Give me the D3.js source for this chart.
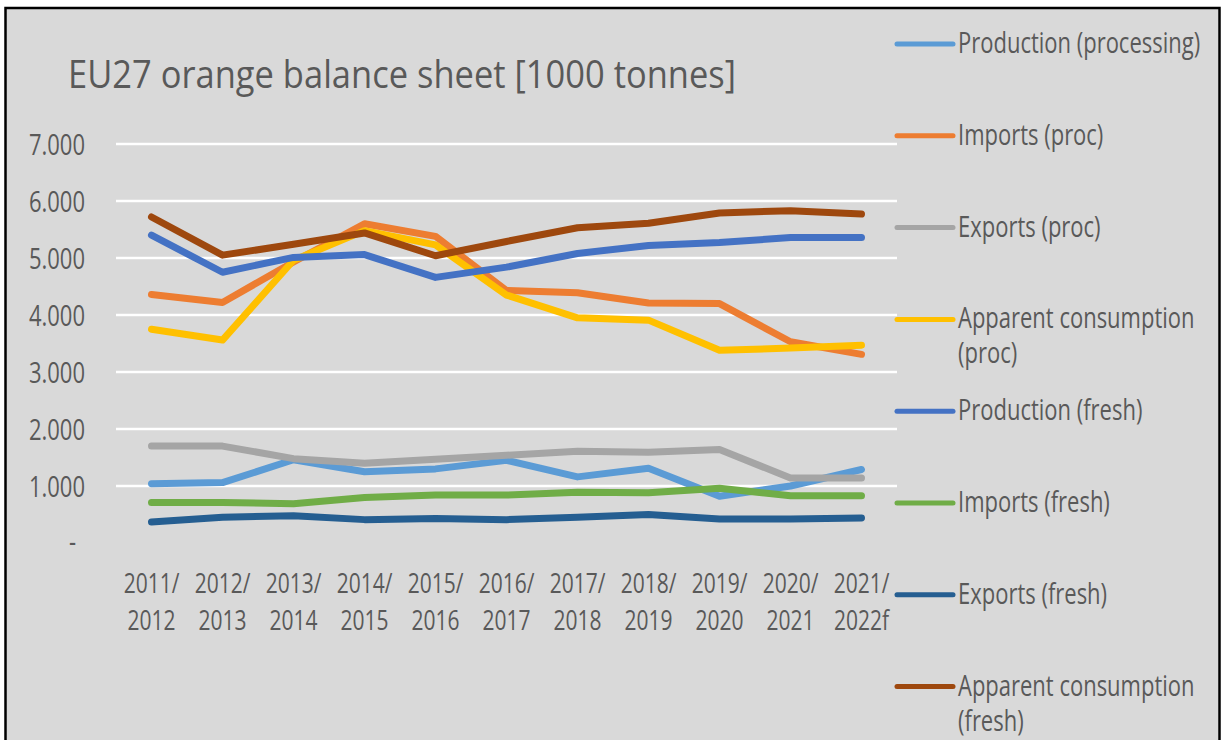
<!DOCTYPE html>
<html>
<head>
<meta charset="utf-8">
<script src="https://cdn.jsdelivr.net/npm/d3@7"></script>
<style>
  html, body { margin: 0; padding: 0; background: #ffffff; }
  svg { display: block; }
  text { font-family: "Open Sans", "Liberation Sans", sans-serif; fill: #595959; }
</style>
</head>
<body>
<svg id="chart" width="1223" height="740"></svg>
<script>
// ---------------- data ----------------
const title = "EU27 orange balance sheet [1000 tonnes]";
const categories = ["2011/2012","2012/2013","2013/2014","2014/2015","2015/2016","2016/2017",
                    "2017/2018","2018/2019","2019/2020","2020/2021","2021/2022f"];
const yTicks = [0, 1000, 2000, 3000, 4000, 5000, 6000, 7000];

const seriesNames = ["Production (processing)", "Imports (proc)", "Exports (proc)",
  "Apparent consumption (proc)", "Production (fresh)", "Imports (fresh)",
  "Exports (fresh)", "Apparent consumption (fresh)"];
const seriesColors = ["#5B9BD5", "#ED7D31", "#A5A5A5", "#FFC000",
                      "#4472C4", "#70AD47", "#255E91", "#9E480E"];

const productionProc   = [1040, 1060, 1460, 1250, 1300, 1450, 1160, 1310, 820, 1000, 1290];
const importsProc      = [4360, 4220, 4930, 5600, 5380, 4430, 4390, 4210, 4200, 3530, 3310];
const exportsProc      = [1700, 1700, 1480, 1400, 1470, 1540, 1610, 1590, 1640, 1140, 1140];
const appConsProc      = [3750, 3560, 4960, 5480, 5230, 4350, 3950, 3910, 3380, 3420, 3470];
const productionFresh  = [5400, 4750, 5010, 5060, 4660, 4840, 5080, 5220, 5270, 5360, 5360];
const importsFresh     = [710, 710, 690, 800, 840, 840, 890, 880, 960, 830, 830];
const exportsFresh     = [370, 450, 480, 410, 430, 410, 450, 500, 420, 420, 440];
const appConsFresh     = [5720, 5050, 5240, 5440, 5040, 5290, 5530, 5610, 5790, 5830, 5770];

const seriesValues = [productionProc, importsProc, exportsProc, appConsProc,
                      productionFresh, importsFresh, exportsFresh, appConsFresh];

// ---------------- layout ----------------
const svg = d3.select("#chart");
const plot = { left: 116, right: 897, top: 144, bottom: 543 };
const SY = 1.3; // vertical stretch of the original screenshot text

// frame
svg.append("rect").attr("x", 5.5).attr("y", 8).attr("width", 1214).attr("height", 760)
  .attr("fill", "#d9d9d9").attr("stroke", "#000").attr("stroke-width", 2.5);

// title
svg.append("text")
  .attr("transform", `translate(68,88) scale(1,1.12)`)
  .attr("font-size", 34.5).attr("fill", "#595959")
  .text(title);

const x = d3.scaleBand().domain(categories).range([plot.left, plot.right]).padding(0);
const y = d3.scaleLinear().domain([0, 7000]).range([plot.bottom, plot.top]);
const cx = c => x(c) + x.bandwidth() / 2;

// gridlines
svg.append("g").selectAll("line").data(yTicks.filter(v => v > 0)).join("line")
  .attr("x1", plot.left).attr("x2", plot.right)
  .attr("y1", d => y(d)).attr("y2", d => y(d))
  .attr("stroke", "#ffffff").attr("stroke-width", 2.5);

// y axis
const fmt = v => v === 0 ? "-" : d3.format(",")(v).replace(/,/g, ".");
const yAxis = svg.append("g").attr("transform", `translate(${plot.left},0)`)
  .call(d3.axisLeft(y).tickValues(yTicks).tickFormat(fmt).tickSize(0));
yAxis.select(".domain").remove();
yAxis.selectAll("text")
  .attr("x", null).attr("dy", null).attr("y", 0)
  .attr("transform", d => `translate(${d === 0 ? -40 : -31},${d === 0 ? 8 : 10}) scale(1,${SY})`)
  .attr("font-size", 22).attr("font-family", "Open Sans").attr("fill", "#595959")
  .attr("text-anchor", "end");

// x axis
const xAxis = svg.append("g").attr("transform", `translate(0,${plot.bottom})`)
  .call(d3.axisBottom(x).tickSize(0).tickFormat(""));
xAxis.select(".domain").remove();
xAxis.selectAll(".tick text").each(function(d) {
  const t = d3.select(this);
  const i = d.indexOf("/");
  t.attr("y", 0).attr("dy", null)
   .attr("transform", `translate(0,50) scale(1,${SY})`)
   .attr("font-size", 21).attr("font-family", "Open Sans").attr("fill", "#595959")
   .attr("text-anchor", "middle");
  t.append("tspan").attr("x", 0).attr("y", 0).text(d.slice(0, i + 1));
  t.append("tspan").attr("x", 0).attr("y", 37 / SY).text(d.slice(i + 1));
});

// lines
const line = d3.line().x((d, i) => cx(categories[i])).y(d => y(d));
svg.append("g").selectAll("path").data(seriesValues).join("path")
  .attr("d", d => line(d))
  .attr("fill", "none")
  .attr("stroke", (d, i) => seriesColors[i])
  .attr("stroke-width", 7)
  .attr("stroke-linejoin", "round")
  .attr("stroke-linecap", "round");

// legend
const legend = svg.append("g");
seriesNames.forEach((name, i) => {
  const ly = 44 + i * 91.8;
  legend.append("line")
    .attr("x1", 897).attr("x2", 953).attr("y1", ly).attr("y2", ly)
    .attr("stroke", seriesColors[i]).attr("stroke-width", 5).attr("stroke-linecap", "round");
  const words = name.match(/^Apparent consumption (.*)$/);
  const lines = words ? ["Apparent consumption", words[1]] : [name];
  lines.forEach((l, k) => {
    legend.append("text")
      .attr("transform", `translate(958,${ly + 9 + k * 35}) scale(1,${SY})`)
      .attr("font-size", 22)
      .text(l);
  });
});
</script>
</body>
</html>
